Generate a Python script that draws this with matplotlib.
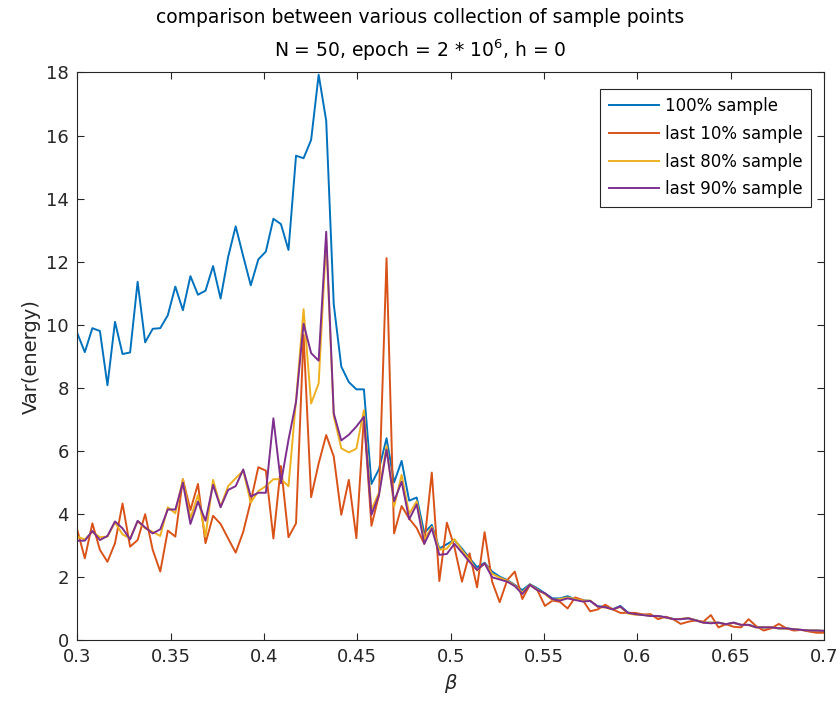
import matplotlib
matplotlib.use('Agg')
import matplotlib.pyplot as plt
import numpy as np

beta = np.linspace(0.3, 0.7, 100)

var_all = [9.73, 9.13, 9.89, 9.80, 8.08, 10.09, 9.07, 9.12, 11.36, 9.44,
           9.87, 9.89, 10.30, 11.21, 10.46, 11.54, 10.95, 11.08, 11.86, 10.83,
           12.15, 13.12, 12.17, 11.25, 12.07, 12.32, 13.36, 13.19, 12.37, 15.36,
           15.28, 15.86, 17.93, 16.47, 10.65, 8.67, 8.18, 7.95, 7.95, 4.95,
           5.42, 6.40, 5.00, 5.68, 4.42, 4.52, 3.40, 3.65, 2.90, 3.04,
           3.17, 2.90, 2.59, 2.31, 2.45, 2.17, 2.01, 1.90, 1.75, 1.58,
           1.77, 1.64, 1.48, 1.32, 1.32, 1.39, 1.29, 1.26, 1.24, 1.07,
           1.05, 0.98, 1.08, 0.87, 0.83, 0.80, 0.77, 0.76, 0.72, 0.67,
           0.66, 0.69, 0.63, 0.56, 0.55, 0.55, 0.50, 0.55, 0.48, 0.48,
           0.41, 0.40, 0.40, 0.37, 0.37, 0.34, 0.32, 0.30, 0.30, 0.29]

var_last10 = [3.49, 2.59, 3.70, 2.86, 2.48, 3.07, 4.33, 2.96, 3.17, 3.99,
              2.86, 2.17, 3.47, 3.28, 5.10, 4.12, 4.95, 3.07, 3.94, 3.68,
              3.22, 2.77, 3.43, 4.40, 5.48, 5.37, 3.22, 5.52, 3.26, 3.70,
              9.68, 4.53, 5.60, 6.50, 5.82, 3.97, 5.08, 3.23, 7.10, 3.62,
              4.60, 12.11, 3.38, 4.25, 3.85, 3.55, 3.05, 5.31, 1.87, 3.72,
              2.95, 1.85, 2.75, 1.67, 3.42, 1.85, 1.20, 1.90, 2.17, 1.30,
              1.75, 1.58, 1.08, 1.25, 1.21, 1.00, 1.35, 1.27, 0.91, 0.97,
              1.12, 0.97, 0.86, 0.86, 0.86, 0.81, 0.82, 0.66, 0.74, 0.66,
              0.51, 0.58, 0.62, 0.58, 0.79, 0.40, 0.50, 0.42, 0.40, 0.66,
              0.44, 0.30, 0.37, 0.51, 0.37, 0.30, 0.32, 0.27, 0.23, 0.23]

var_last80 = [3.28, 3.19, 3.43, 3.26, 3.28, 3.73, 3.35, 3.22, 3.76, 3.54,
              3.43, 3.30, 4.21, 4.02, 5.10, 3.86, 4.60, 3.28, 5.08, 4.23,
              4.88, 5.13, 5.37, 4.36, 4.72, 4.88, 5.10, 5.10, 4.88, 7.60,
              10.49, 7.50, 8.14, 12.70, 7.10, 6.08, 5.95, 6.07, 7.29, 4.13,
              4.68, 6.16, 4.23, 5.24, 4.00, 4.40, 3.17, 3.59, 2.86, 2.90,
              3.20, 2.85, 2.55, 2.20, 2.43, 2.10, 1.98, 1.88, 1.73, 1.50,
              1.76, 1.60, 1.45, 1.27, 1.30, 1.35, 1.30, 1.25, 1.25, 1.05,
              1.03, 0.97, 1.05, 0.84, 0.80, 0.80, 0.77, 0.75, 0.71, 0.66,
              0.67, 0.70, 0.62, 0.55, 0.55, 0.55, 0.50, 0.54, 0.48, 0.47,
              0.40, 0.40, 0.40, 0.37, 0.36, 0.34, 0.32, 0.30, 0.30, 0.29]

var_last90 = [3.15, 3.15, 3.46, 3.17, 3.30, 3.76, 3.54, 3.19, 3.78, 3.57,
              3.38, 3.51, 4.14, 4.14, 4.99, 3.68, 4.39, 3.78, 4.92, 4.21,
              4.76, 4.88, 5.41, 4.55, 4.67, 4.67, 7.03, 4.97, 6.35, 7.55,
              10.03, 9.10, 8.86, 12.95, 7.19, 6.33, 6.51, 6.77, 7.08, 3.97,
              4.60, 6.04, 4.40, 5.02, 3.83, 4.30, 3.05, 3.54, 2.70, 2.73,
              3.05, 2.77, 2.48, 2.22, 2.43, 1.99, 1.92, 1.85, 1.71, 1.46,
              1.75, 1.58, 1.48, 1.29, 1.25, 1.32, 1.27, 1.22, 1.24, 1.06,
              1.04, 0.97, 1.06, 0.86, 0.82, 0.79, 0.76, 0.76, 0.72, 0.66,
              0.66, 0.69, 0.62, 0.55, 0.53, 0.55, 0.50, 0.55, 0.48, 0.48,
              0.40, 0.40, 0.40, 0.37, 0.37, 0.34, 0.32, 0.30, 0.30, 0.29]

labels = ['100% sample', 'last 10% sample', 'last 80% sample', 'last 90% sample']
colors = ['#0072BD', '#D95319', '#EDB120', '#7E2F8E']

xticks = [0.3, 0.35, 0.4, 0.45, 0.5, 0.55, 0.6, 0.65, 0.7]
xticklabels = ['0.3', '0.35', '0.4', '0.45', '0.5', '0.55', '0.6', '0.65', '0.7']
yticks = [0, 2, 4, 6, 8, 10, 12, 14, 16, 18]

fig = plt.figure(figsize=(8.4, 7.05), dpi=100)
ax = fig.add_axes([0.092, 0.0922, 0.889, 0.805])

for ys, lab, c in zip([var_all, var_last10, var_last80, var_last90], labels, colors):
    ax.plot(beta, ys, color=c, lw=1.4, label=lab)

ax.set_xlim(0.3, 0.7)
ax.set_ylim(0, 18)
ax.set_xticks(xticks)
ax.set_xticklabels(xticklabels)
ax.set_yticks(yticks)

axcol = '#262626'
for s in ax.spines.values():
    s.set_color(axcol)
    s.set_linewidth(0.8)
ax.tick_params(direction='in', length=5, width=0.8, colors=axcol,
               labelsize=13, top=True, right=True, pad=6)

ax.set_xlabel(r'$\beta$', fontsize=14, color=axcol)
ax.set_ylabel('Var(energy)', fontsize=14, color=axcol)

fig.text(0.5, 0.975, 'comparison between various collection of sample points',
         ha='center', va='center', fontsize=13.5, color='black')
fig.text(0.5, 0.929, r'N = 50, epoch = 2 * 10$^{6}$, h = 0',
         ha='center', va='center', fontsize=13.5, color='black')

leg = ax.legend(loc='upper right', bbox_to_anchor=(0.983, 0.971),
                borderaxespad=0, fontsize=12, handlelength=3.0,
                handletextpad=0.4, labelspacing=0.58, fancybox=False,
                framealpha=1, edgecolor=axcol, borderpad=0.5)
leg.get_frame().set_linewidth(0.8)

fig.savefig('out.png', dpi=100)
